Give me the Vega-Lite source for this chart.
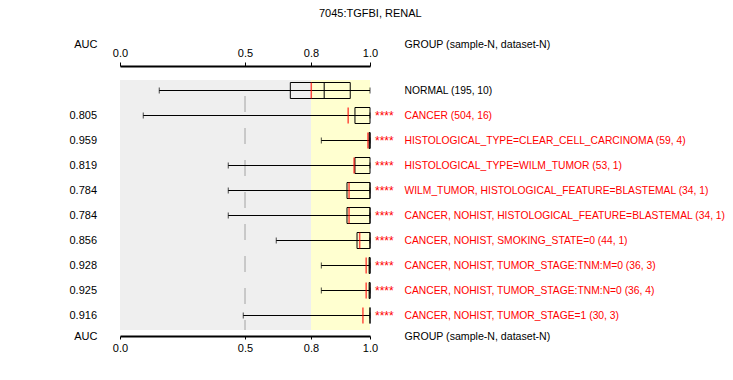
{
  "$schema": "https://vega.github.io/schema/vega-lite/v6.json",
  "width": 250,
  "height": 270,
  "autosize": {"type": "none"},
  "padding": {"left": 120, "top": 66, "right": 363, "bottom": 44},
  "background": "white",
  "title": {"text": "7045:TGFBI, RENAL", "anchor": "start", "frame": "group", "dx": 199, "dy": -15, "fontSize": 11, "fontWeight": "normal", "font": "Liberation Sans", "color": "black"},
  "config": {
    "view": {"stroke": null},
    "font": "Liberation Sans",
    "axis": {"labelFont": "Liberation Sans", "labelFontSize": 11, "labelColor": "black", "titleFont": "Liberation Sans", "titleFontSize": 11, "titleFontWeight": "normal", "titleColor": "black", "domainColor": "black", "tickColor": "black", "grid": false, "labelFlush": false, "labelLimit": 0, "labelOverlap": false},
    "text": {"font": "Liberation Sans", "fontSize": 11}
  },
  "data": {"values": [
    {"group": "NORMAL (195, 10)", "auc": "", "sig": "", "lo": 0.157, "q1": 0.706, "med": 0.845, "q3": 0.933, "hi": 1.0, "red": 0.801},
    {"group": "CANCER (504, 16)", "auc": "0.805", "sig": "****", "lo": 0.093, "q1": 0.949, "med": null, "q3": 1.0, "hi": 1.0, "red": 0.926},
    {"group": "HISTOLOGICAL_TYPE=CLEAR_CELL_CARCINOMA (59, 4)", "auc": "0.959", "sig": "****", "lo": 0.835, "q1": 0.997, "med": 1.0, "q3": 1.0, "hi": 1.0, "red": 0.993},
    {"group": "HISTOLOGICAL_TYPE=WILM_TUMOR (53, 1)", "auc": "0.819", "sig": "****", "lo": 0.433, "q1": 0.949, "med": null, "q3": 1.0, "hi": 1.0, "red": 0.946},
    {"group": "WILM_TUMOR, HISTOLOGICAL_FEATURE=BLASTEMAL (34, 1)", "auc": "0.784", "sig": "****", "lo": 0.433, "q1": 0.922, "med": 1.0, "q3": 1.0, "hi": 1.0, "red": 0.929},
    {"group": "CANCER, NOHIST, HISTOLOGICAL_FEATURE=BLASTEMAL (34, 1)", "auc": "0.784", "sig": "****", "lo": 0.433, "q1": 0.922, "med": 1.0, "q3": 1.0, "hi": 1.0, "red": 0.929},
    {"group": "CANCER, NOHIST, SMOKING_STATE=0 (44, 1)", "auc": "0.856", "sig": "****", "lo": 0.642, "q1": 0.956, "med": 1.0, "q3": 1.0, "hi": 1.0, "red": 0.965},
    {"group": "CANCER, NOHIST, TUMOR_STAGE:TNM:M=0 (36, 3)", "auc": "0.928", "sig": "****", "lo": 0.835, "q1": 0.997, "med": 1.0, "q3": 1.0, "hi": 1.0, "red": 0.987},
    {"group": "CANCER, NOHIST, TUMOR_STAGE:TNM:N=0 (36, 4)", "auc": "0.925", "sig": "****", "lo": 0.835, "q1": 0.997, "med": 1.0, "q3": 1.0, "hi": 1.0, "red": 0.987},
    {"group": "CANCER, NOHIST, TUMOR_STAGE=1 (30, 3)", "auc": "0.916", "sig": "****", "lo": 0.493, "q1": 1.0, "med": null, "q3": 1.0, "hi": 1.0, "red": 0.976}
  ]},
  "encoding": {
    "y": {"field": "group", "type": "nominal", "sort": null, "axis": null,
          "scale": {"type": "band", "paddingInner": 0, "paddingOuter": 0.4, "align": 0.6}}
  },
  "resolve": {"axis": {"x": "independent", "y": "independent"}},
  "layer": [
    {
      "mark": {"type": "rect", "color": "#efefef", "yOffset": 2},
      "encoding": {
        "x": {"datum": 0, "type": "quantitative",
              "scale": {"domain": [0, 0.5, 0.8, 1], "range": [0, 125, 191, 250], "zero": false, "nice": false},
              "axis": {"orient": "top", "values": [0, 0.5, 0.8, 1], "format": ".1f", "domainWidth": 2, "tickSize": 4, "labelPadding": 4,
                       "title": "GROUP (sample-N, dataset-N)", "titleFontSize": 10.6, "titleAngle": 0, "titleX": 284, "titleY": 270, "titleAlign": "left", "titleBaseline": "middle", "titleAnchor": null}},
        "x2": {"datum": 0.8},
        "y": {"field": "group", "type": "nominal", "sort": null,
              "axis": {"orient": "left", "labels": false, "ticks": false, "domain": false,
                       "title": "AUC", "titleAngle": 0, "titleX": -23, "titleY": -22, "titleAlign": "right", "titleBaseline": "middle"}}
      }
    },
    {
      "mark": {"type": "rect", "color": "#ffffd0", "yOffset": 2},
      "encoding": {
        "x": {"datum": 0.8, "type": "quantitative",
              "scale": {"domain": [0, 0.5, 0.8, 1], "range": [0, 125, 191, 250], "zero": false, "nice": false},
              "axis": {"orient": "bottom", "values": [0, 0.5, 0.8, 1], "format": ".1f", "domainWidth": 2, "tickSize": 3, "labelPadding": 3,
                       "title": "AUC", "titleAngle": 0, "titleX": -23, "titleY": 0, "titleAlign": "right", "titleBaseline": "middle"}},
        "x2": {"datum": 1},
        "y": {"field": "group", "type": "nominal", "sort": null,
              "axis": {"orient": "right", "ticks": false, "domain": false, "labelPadding": 34, "labelAlign": "left", "labelBaseline": "middle", "labelFontSize": 10.3,
                       "labelColor": {"condition": {"test": "datum.value === 'NORMAL (195, 10)'", "value": "black"}, "value": "#ff0000"},
                       "title": "GROUP (sample-N, dataset-N)", "titleFontSize": 10.6, "titleAngle": 0, "titleX": 34, "titleY": -22, "titleAlign": "left", "titleBaseline": "middle"}}
      }
    },
    {
      "mark": {"type": "rule", "color": "#c8c8c8", "strokeWidth": 1, "strokeDash": [16, 16], "strokeDashOffset": 16, "yOffset": -10.5, "y2Offset": 14.5},
      "encoding": {
        "x": {"datum": 0.5, "type": "quantitative", "scale": {"domain": [0, 0.5, 0.8, 1], "range": [0, 125, 191, 250], "zero": false, "nice": false}, "axis": null},
        "y": {"datum": "NORMAL (195, 10)", "type": "nominal", "axis": null},
        "y2": {"datum": "CANCER, NOHIST, TUMOR_STAGE=1 (30, 3)"}
      }
    },
    {
      "mark": {"type": "rule", "color": "black", "strokeWidth": 1},
      "encoding": {
        "x": {"field": "lo", "type": "quantitative", "scale": {"domain": [0, 0.5, 0.8, 1], "range": [0, 125, 191, 250], "zero": false, "nice": false}, "axis": null},
        "x2": {"field": "hi"}
      }
    },
    {
      "mark": {"type": "tick", "color": "black", "size": 6, "thickness": 1, "orient": "vertical"},
      "encoding": {
        "x": {"field": "lo", "type": "quantitative", "scale": {"domain": [0, 0.5, 0.8, 1], "range": [0, 125, 191, 250], "zero": false, "nice": false}, "axis": null}
      }
    },
    {
      "mark": {"type": "tick", "color": "black", "size": 6, "thickness": 1, "orient": "vertical"},
      "encoding": {
        "x": {"field": "hi", "type": "quantitative", "scale": {"domain": [0, 0.5, 0.8, 1], "range": [0, 125, 191, 250], "zero": false, "nice": false}, "axis": null}
      }
    },
    {
      "mark": {"type": "bar", "filled": false, "stroke": "black", "strokeWidth": 1, "height": 16},
      "encoding": {
        "x": {"field": "q1", "type": "quantitative", "scale": {"domain": [0, 0.5, 0.8, 1], "range": [0, 125, 191, 250], "zero": false, "nice": false}, "axis": null},
        "x2": {"field": "q3"}
      }
    },
    {
      "mark": {"type": "tick", "color": "black", "size": 16, "thickness": 1.5, "orient": "vertical"},
      "encoding": {
        "x": {"field": "med", "type": "quantitative", "scale": {"domain": [0, 0.5, 0.8, 1], "range": [0, 125, 191, 250], "zero": false, "nice": false}, "axis": null}
      }
    },
    {
      "mark": {"type": "tick", "color": "#ff0000", "size": 16, "thickness": 1.5, "orient": "vertical"},
      "encoding": {
        "x": {"field": "red", "type": "quantitative", "scale": {"domain": [0, 0.5, 0.8, 1], "range": [0, 125, 191, 250], "zero": false, "nice": false}, "axis": null}
      }
    },
    {
      "mark": {"type": "text", "align": "right", "baseline": "middle", "dx": -23, "color": "black"},
      "encoding": {
        "x": {"datum": 0, "type": "quantitative", "scale": {"domain": [0, 0.5, 0.8, 1], "range": [0, 125, 191, 250], "zero": false, "nice": false}, "axis": null},
        "text": {"field": "auc"}
      }
    },
    {
      "mark": {"type": "text", "align": "left", "baseline": "middle", "dx": 5, "fontSize": 12, "color": "#ff0000"},
      "encoding": {
        "x": {"datum": 1, "type": "quantitative", "scale": {"domain": [0, 0.5, 0.8, 1], "range": [0, 125, 191, 250], "zero": false, "nice": false}, "axis": null},
        "text": {"field": "sig"}
      }
    }
  ]
}
